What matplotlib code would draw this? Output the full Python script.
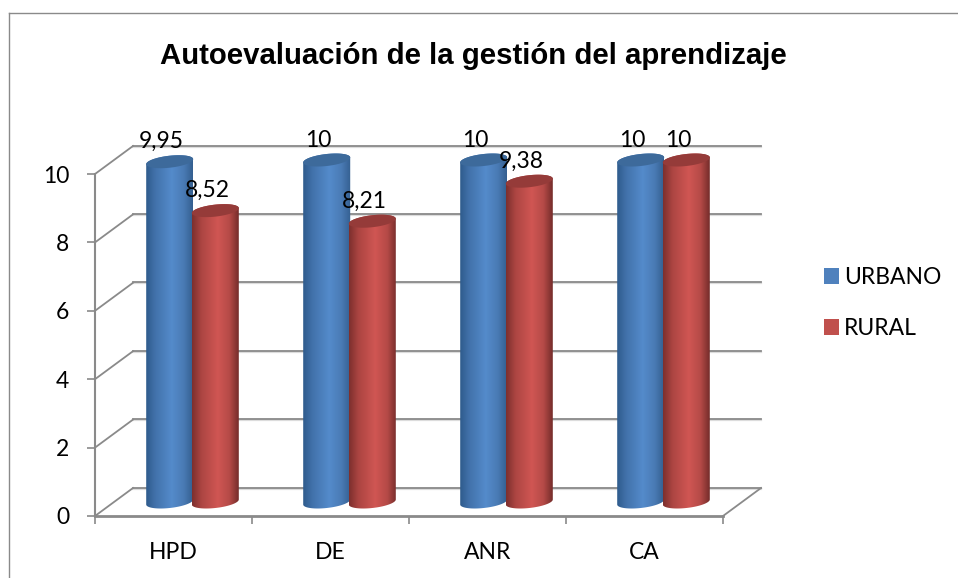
import numpy as np
import matplotlib
matplotlib.use("Agg")
import matplotlib.pyplot as plt
from matplotlib.colors import LinearSegmentedColormap
from matplotlib.patches import Patch, PathPatch, Polygon
from matplotlib.path import Path
from matplotlib.lines import Line2D

TITLE = "Autoevaluación de la gestión del aprendizaje"
categories = ["HPD", "DE", "ANR", "CA"]
series_names = ["URBANO", "RURAL"]
urbano = [9.95, 10, 10, 10]
rural = [8.52, 8.21, 9.38, 10]
y_ticks = [0, 2, 4, 6, 8, 10]

W, H = 958, 578
plt.rcParams["font.family"] = ["Lato", "DejaVu Sans"]
GREY = "#8a8a8a"
FS = 16.5
fig = plt.figure(figsize=(W / 100, H / 100), dpi=100)
fig.patch.set_facecolor("white")

# outer frame (left and top only, the picture crops the rest)
fx, fy = 8.5 / W, 1 - 12.5 / H
fig.add_artist(Line2D([fx, fx], [0, fy], color=GREY, lw=1.0))
fig.add_artist(Line2D([fx, 1], [fy, fy], color=GREY, lw=1.0))

ax = fig.add_axes([95 / W, 1 - 516 / H, 628 / W, 342 / H])
ax.set_xlim(0, 4)
ax.set_ylim(0, 10)
ax.patch.set_alpha(0)
UX, UY = 628 / 4, 342 / 10
DX, DY = 38 / UX, 28 / UY   # depth of the 3D box in data units

for s in ("top", "right"):
    ax.spines[s].set_visible(False)
for s in ("left", "bottom"):
    ax.spines[s].set_color(GREY)
    ax.spines[s].set_linewidth(1.5)
ax.spines["bottom"].set_linewidth(2.0)

ax.set_yticks(y_ticks)
ax.set_yticklabels([str(t) for t in y_ticks], fontsize=FS)
ax.tick_params(axis="y", length=6, width=1.2, color=GREY, pad=12.5, labelcolor="black")
ax.set_xticks(np.arange(len(categories) + 1))
ax.set_xticklabels([])
ax.tick_params(axis="x", which="major", length=6, width=1.2, color=GREY)
ax.set_xticks(np.arange(len(categories)) + 0.5, minor=True)
ax.set_xticklabels(categories, minor=True, fontsize=FS)
ax.tick_params(axis="x", which="minor", length=0, pad=19, labelcolor="black")

# walls
for t in y_ticks:
    ax.plot([DX, 4 + DX], [t + DY - 0.02, t + DY - 0.02], color="#dcdcdc", lw=1.6, clip_on=False, zorder=1)
    ax.plot([DX, 4 + DX], [t + DY + 0.012, t + DY + 0.012], color=GREY, lw=1.3, clip_on=False, zorder=1.1)
    ax.plot([0, DX], [t, t + DY], color=GREY, lw=1.3, clip_on=False, zorder=1.1)
ax.plot([4, 4 + DX], [0, DY], color=GREY, lw=1.3, clip_on=False, zorder=1.1)

cmaps = [
    LinearSegmentedColormap.from_list("b", [(0, "#2f5b8c"), (0.2, "#4272ab"), (0.55, "#548bcb"), (0.8, "#4a7bb5"), (1, "#345f90")]),
    LinearSegmentedColormap.from_list("r", [(0, "#7c2f2d"), (0.2, "#ac4542"), (0.55, "#d05653"), (0.8, "#b54a47"), (1, "#742c2a")]),
]
caps = ["#3d6a9b", "#953b39"]
BW = 47 / UX
A = BW / 2
B = 6.0 / UY
S = 2.5 / UY
theta = np.linspace(0, 2 * np.pi, 121)


def ellipse(xc, yc, t):
    return np.column_stack([xc + A * np.cos(t), yc + B * np.sin(t) + S * np.cos(t)])


grad = np.linspace(0, 1, 256).reshape(1, -1)
for j, vals in enumerate([urbano, rural]):
    for i, v in enumerate(vals):
        xc = i + 0.5 + DX / 2 + (j - 0.5) * BW * 0.97
        y0 = DY / 2
        yt = y0 + v
        lower = ellipse(xc, y0, np.linspace(np.pi, 2 * np.pi, 60))
        upper = ellipse(xc, yt, np.linspace(0, np.pi, 60))
        verts = np.vstack([lower, upper, lower[:1]])
        body = PathPatch(Path(verts, closed=True), transform=ax.transData, facecolor="none",
                         edgecolor="none", clip_on=False)
        ax.add_patch(body)
        im = ax.imshow(grad, cmap=cmaps[j], extent=(xc - A, xc + A, y0 - B - S, yt + B + S),
                       aspect="auto", interpolation="bilinear", zorder=3 + j)
        im.set_clip_box(fig.bbox)
        im.set_clip_path(body)
        ax.add_patch(Polygon(ellipse(xc, yt, theta), closed=True, facecolor=caps[j], edgecolor="none",
                             zorder=3.5 + j, clip_on=False))
        ax.annotate(f"{v:g}".replace(".", ","), (xc, yt), xytext=(-8, 20), textcoords="offset pixels",
                    ha="center", va="center", fontsize=FS, color="black", zorder=8, annotation_clip=False)
ax.set_xlim(0, 4)
ax.set_ylim(0, 10)

fig.text(473 / W, 1 - 55.5 / H, TITLE, family=["Liberation Sans"], weight="bold", fontsize=21.2,
         ha="center", va="center", color="black")

handles = [Patch(facecolor="#4f81bd", edgecolor="none"), Patch(facecolor="#c0504d", edgecolor="none")]
fig.legend(handles, series_names, loc="center left", bbox_to_anchor=(824 / W, 1 - 303 / H), frameon=False,
           fontsize=FS, handlelength=0.66, handleheight=0.66, handletextpad=0.2, labelspacing=1.3,
           borderpad=0, borderaxespad=0)

fig.savefig("out.png", dpi=100)
